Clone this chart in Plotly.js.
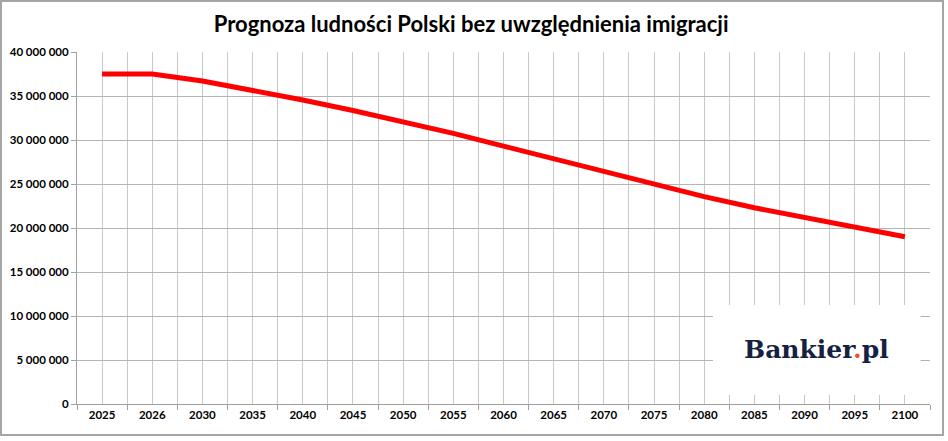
<!DOCTYPE html>
<html>
<head>
<meta charset="utf-8">
<script src="https://cdn.plot.ly/plotly-3.0.1.min.js"></script>
<style>
  html, body { margin: 0; padding: 0; background: #ffffff; }
  #wrap { position: relative; width: 948px; height: 441px; }
  #chart { position: absolute; left: 0; top: 0; width: 948px; height: 441px; }
  #frame { position: absolute; left: 0; top: 0; width: 940px; height: 432px;
           border: 2px solid #a6a6a6; pointer-events: none; }
</style>
</head>
<body>
<div id="wrap">
  <div id="chart"></div>
  <div id="frame"></div>
</div>
<script>
// Data
const years = ["2025", "2026", "2030", "2035", "2040", "2045", "2050", "2055", "2060",
               "2065", "2070", "2075", "2080", "2085", "2090", "2095", "2100"];
const population = [37500000, 37500000, 36700000, 35650000, 34550000, 33350000, 32100000,
                    30750000, 29300000, 27850000, 26400000, 25000000, 23560000, 22300000,
                    21200000, 20150000, 19000000];
const chartTitle = "Prognoza ludności Polski bez uwzględnienia imigracji";

const idx = years.map((_, i) => i);

const trace = {
  x: idx,
  y: population,
  type: "scatter",
  mode: "lines",
  line: { color: "#ff0000", width: 5 },
  hoverinfo: "skip",
  showlegend: false
};

const layout = {
  width: 948,
  height: 441,
  margin: { l: 77, r: 18, t: 52, b: 37 },
  paper_bgcolor: "#ffffff",
  plot_bgcolor: "#ffffff",
  separators: ". ",
  title: {
    text: "<b>" + chartTitle + "</b>",
    font: { family: "Lato, 'Open Sans', sans-serif", size: 22, color: "#000000" },
    x: 0.497, xanchor: "center",
    y: 0.945, yanchor: "middle"
  },
  xaxis: {
    type: "linear",
    range: [-0.5, years.length - 0.5],
    tickmode: "array",
    tickvals: idx,
    ticktext: years.map(y => "<b>" + y + "</b>"),
    ticks: "",
    showgrid: true,
    gridcolor: "#c8c8c8",
    gridwidth: 1,
    showline: true,
    linecolor: "#a0a0a0",
    linewidth: 1,
    zeroline: false,
    tickfont: { family: "Lato, 'Open Sans', sans-serif", size: 11.5, color: "#000000" },
    minor: {
      tickmode: "linear",
      tick0: -0.5,
      dtick: 1,
      ticks: "outside",
      ticklen: 5,
      tickcolor: "#a0a0a0",
      showgrid: true,
      gridcolor: "#c8c8c8",
      gridwidth: 1
    },
    fixedrange: true
  },
  yaxis: {
    range: [0, 40000000],
    tickmode: "linear",
    tick0: 0,
    dtick: 5000000,
    tickformat: ",d",
    ticks: "outside",
    ticklen: 5,
    tickcolor: "#a0a0a0",
    showgrid: true,
    gridcolor: "#b4b4b4",
    gridwidth: 1,
    showline: true,
    linecolor: "#a0a0a0",
    linewidth: 1,
    zeroline: false,
    tickfont: { family: "Lato, 'Open Sans', sans-serif", size: 11.5, color: "#000000", weight: "bold" },
    fixedrange: true
  },
  shapes: [
    {
      type: "rect", xref: "paper", yref: "paper", layer: "above",
      x0: 0.7456, x1: 0.989, y0: 0.026, y1: 0.281,
      fillcolor: "#ffffff", line: { width: 0 }
    }
  ],
  annotations: [
    {
      xref: "paper", yref: "paper",
      x: 0.867, y: 0.155, xanchor: "center", yanchor: "middle",
      showarrow: false,
      text: "<b>Bankier<span style='color:#f04e23'>.</span>pl</b>",
      font: { family: "'DejaVu Serif', 'Liberation Serif', serif", size: 25, color: "#14213f" }
    }
  ]
};

Plotly.newPlot("chart", [trace], layout, { displayModeBar: false, staticPlot: true });
</script>
</body>
</html>
